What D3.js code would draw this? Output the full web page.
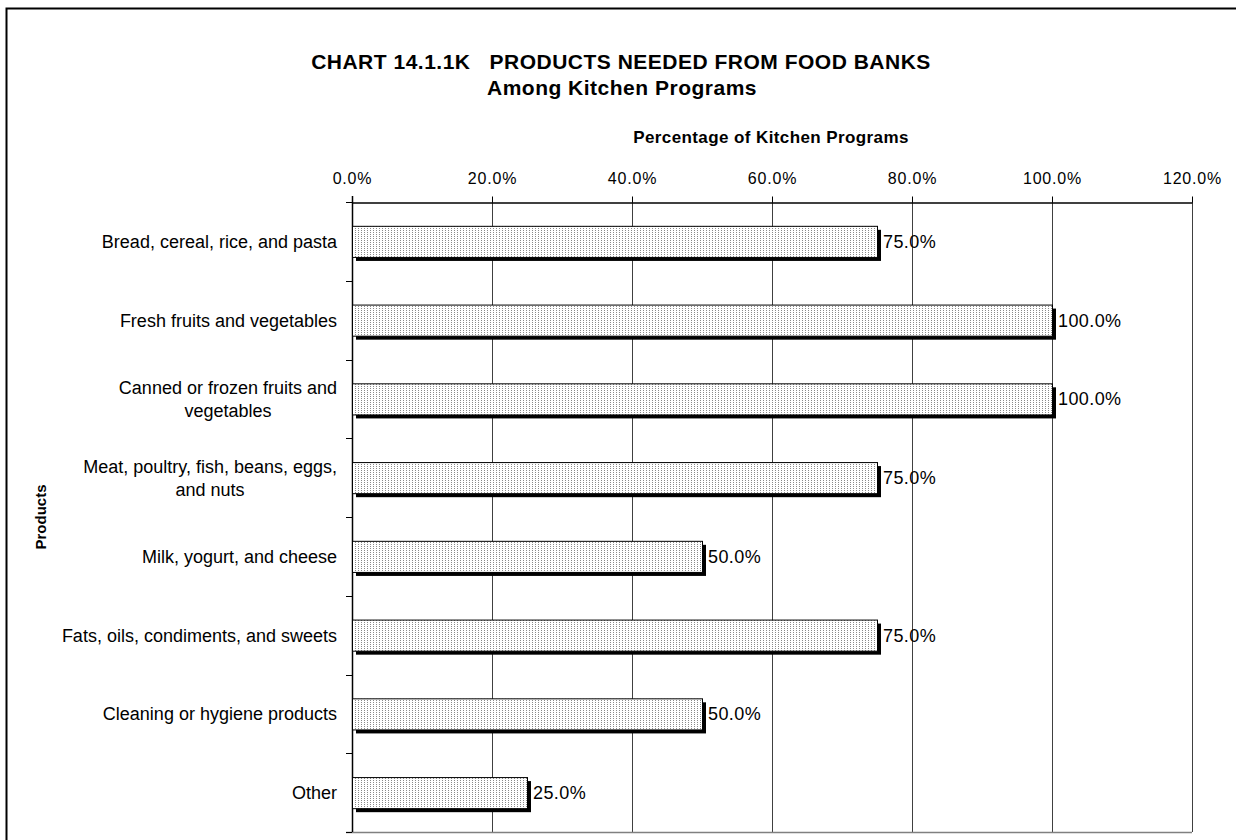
<!DOCTYPE html>
<html><head><meta charset="utf-8">
<script src="https://cdn.jsdelivr.net/npm/d3@7"></script>
<style>body{margin:0;background:#fff}svg{display:block}text{font-family:"Liberation Sans",Arial,sans-serif}</style>
</head><body>
<svg id="c" width="1236" height="840"></svg>
<script>
const categories = [
  "Bread, cereal, rice, and pasta",
  "Fresh fruits and vegetables",
  "Canned or frozen fruits and|vegetables",
  "Meat, poultry, fish, beans, eggs,|and nuts",
  "Milk, yogurt, and cheese",
  "Fats, oils, condiments, and sweets",
  "Cleaning or hygiene products",
  "Other"
];
const values = [75.0, 100.0, 100.0, 75.0, 50.0, 75.0, 50.0, 25.0];
const xTicks = [0, 20, 40, 60, 80, 100, 120];
const titleLines = ["CHART 14.1.1K   PRODUCTS NEEDED FROM FOOD BANKS", "Among Kitchen Programs"];
const xTitle = "Percentage of Kitchen Programs";
const yTitle = "Products";

const svg = d3.select("#c");
const m = {l:352, t:202, r:1192, b:832};
const x = d3.scaleLinear().domain([0,120]).range([m.l, m.r]);
const y = d3.scaleBand().domain(categories).range([m.t, m.b]).paddingInner(0.605).paddingOuter(0.3025);
const yB = d3.scaleBand().domain(categories).range([m.t, m.b]);

// outer border
svg.append("rect").attr("x",6.5).attr("y",8.5).attr("width",1240).attr("height",850)
  .attr("fill","none").attr("stroke","#000").attr("stroke-width",2);

// pattern
const defs = svg.append("defs");
const pat = defs.append("pattern").attr("id","dots").attr("patternUnits","userSpaceOnUse")
  .attr("width",3).attr("height",2);
pat.append("rect").attr("width",3).attr("height",2).attr("fill","#fff");
pat.append("rect").attr("x",1).attr("y",0).attr("width",1).attr("height",1).attr("fill","#8a8a8a");

// title
svg.append("text").attr("x",621).attr("y",69).attr("text-anchor","middle")
  .attr("font-size",21).attr("font-weight","bold").attr("letter-spacing",0.5)
  .style("white-space","pre").text(titleLines[0]);
svg.append("text").attr("x",622).attr("y",95).attr("text-anchor","middle")
  .attr("font-size",21).attr("font-weight","bold").attr("letter-spacing",0.5).text(titleLines[1]);

// x axis title
svg.append("text").attr("x",771).attr("y",143).attr("text-anchor","middle")
  .attr("font-size",17).attr("font-weight","bold").attr("letter-spacing",0.4).text(xTitle);

// y axis title
svg.append("text").attr("transform","translate(46,517) rotate(-90)").attr("text-anchor","middle")
  .attr("font-size",15).attr("font-weight","bold").text(yTitle);

// gridlines
svg.append("g").selectAll("line").data(xTicks.slice(1)).join("line")
  .attr("x1",d=>Math.round(x(d))+0.5).attr("x2",d=>Math.round(x(d))+0.5)
  .attr("y1",m.t).attr("y2",m.b).attr("stroke","#404040").attr("stroke-width",1);
// bottom line
svg.append("line").attr("x1",m.l-6).attr("x2",m.r).attr("y1",m.b+0.5).attr("y2",m.b+0.5)
  .attr("stroke","#808080").attr("stroke-width",1.5);

// top axis
const xAxis = d3.axisTop(x).tickValues(xTicks).tickSize(6).tickSizeOuter(0)
  .tickFormat(d=>d.toFixed(1)+"%");
const gx = svg.append("g").attr("transform",`translate(0,${m.t+0.5})`).call(xAxis);
gx.select(".domain").attr("stroke","#000").attr("stroke-width",1.5);
gx.selectAll(".tick line").attr("stroke","#000");
gx.selectAll(".tick text").attr("font-size",16).attr("font-family",null).attr("letter-spacing",0.8)
  .attr("fill","#000").attr("dy",null).attr("y",-19);

// left axis: ticks at band boundaries
const bounds = categories.map(c=>yB(c)).concat([m.b]);
svg.append("g").selectAll("line").data(bounds).join("line")
  .attr("x1",m.l-6).attr("x2",m.l).attr("y1",d=>Math.round(d)+0.5).attr("y2",d=>Math.round(d)+0.5)
  .attr("stroke","#000");
svg.append("line").attr("x1",m.l+0.5).attr("x2",m.l+0.5).attr("y1",m.t-6).attr("y2",m.b)
  .attr("stroke","#000").attr("stroke-width",1.5);

// category labels
const lg = svg.append("g");
categories.forEach(c=>{
  const lines = c.split("|");
  const cy = yB(c) + yB.bandwidth()/2;
  const lh = 23;
  const g = lg.append("g");
  const ts = lines.map((ln,i)=> g.append("text").attr("font-size",18).attr("fill","#000")
      .attr("y", cy + (i - (lines.length-1)/2)*lh + 6.5).text(ln));
  const maxW = d3.max(ts, t=>t.node().getComputedTextLength());
  const right = 337;
  ts.forEach(t=>t.attr("x", right - maxW/2).attr("text-anchor","middle"));
});

// bars
const bg = svg.append("g");
bg.selectAll("rect.sh").data(values).join("rect").attr("class","sh")
  .attr("x",m.l+4).attr("y",(d,i)=>y(categories[i])+4)
  .attr("width",d=>x(d)-m.l).attr("height",y.bandwidth()).attr("fill","#000");
bg.selectAll("rect.bar").data(values).join("rect").attr("class","bar")
  .attr("x",m.l+0.5).attr("y",(d,i)=>y(categories[i])+0.5)
  .attr("width",d=>x(d)-m.l).attr("height",y.bandwidth())
  .attr("fill","url(#dots)").attr("stroke","#000").attr("stroke-width",1);

// value labels
svg.append("g").selectAll("text").data(values).join("text")
  .attr("x",d=>x(d)+6).attr("y",(d,i)=>y(categories[i])+y.bandwidth()/2+6.5)
  .attr("font-size",18).attr("letter-spacing",0.4).attr("fill","#000").text(d=>d.toFixed(1)+"%");
</script>
</body></html>
